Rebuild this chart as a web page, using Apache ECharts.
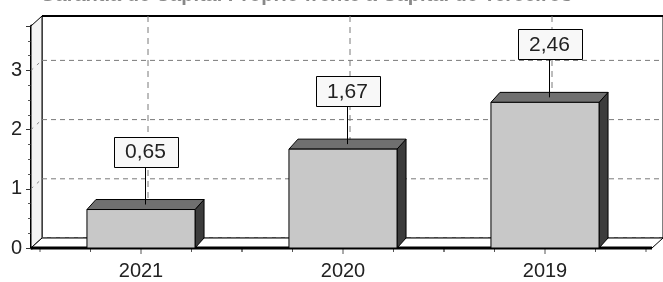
<!DOCTYPE html>
<html>
<head>
<meta charset="utf-8">
<script src="https://cdn.jsdelivr.net/npm/echarts@6/dist/echarts.min.js"></script>
<style>
  html, body { margin: 0; padding: 0; background: #fff; }
  #chart { width: 663px; height: 282px; }
</style>
</head>
<body>
<div id="chart"></div>
<script>
  const categories = ['2021', '2020', '2019'];
  const values = [0.65, 1.67, 2.46];
  const yTicks = [0, 1, 2, 3];
  const titleText = 'Garantia de Capital Próprio frente a Capital de Terceiros';

  const FONT = 'Arial, "Liberation Sans", sans-serif';
  const WALL = [11, -10]; // back wall offset
  const DEPTH = [9, -10]; // bar depth
  const GRID_DASH = { stroke: '#7a7a7a', lineWidth: 1, lineDash: [5, 4] };

  const fmt = (v) => v.toFixed(2).replace('.', ',');

  const chart = echarts.init(document.getElementById('chart'));

  // walls, floor, grid lines
  function renderFrame(params, api) {
    const r = params.coordSys;
    const x0 = r.x - 9;
    const x1 = r.x + r.width + 6;
    const yTop = r.y;
    const yBase = r.y + r.height;
    const bx0 = x0 + WALL[0];
    const bx1 = x1 + WALL[0];
    const by0 = yTop + WALL[1];
    const byBase = yBase + WALL[1];
    const children = [];

    children.push({
      type: 'rect',
      shape: { x: bx0, y: by0, width: bx1 - bx0, height: byBase - by0 },
      style: { fill: '#fff', stroke: '#000', lineWidth: 1 },
    });
    children.push({
      type: 'line',
      shape: { x1: bx0, y1: by0, x2: bx1, y2: by0 },
      style: { stroke: '#000', lineWidth: 2 },
    });
    children.push({
      type: 'polygon',
      shape: { points: [[x0, yBase], [x0, yTop], [bx0, by0], [bx0, byBase]] },
      style: { fill: '#f4f4f4', stroke: '#000', lineWidth: 1 },
    });
    children.push({
      type: 'polygon',
      shape: { points: [[x0, yBase], [bx0, byBase], [bx1, byBase], [x1, yBase]] },
      style: { fill: '#fff', stroke: '#000', lineWidth: 1 },
    });

    yTicks.forEach((t) => {
      const y = api.coord([0, t])[1];
      children.push({
        type: 'line',
        shape: { x1: bx0, y1: y + WALL[1], x2: bx1, y2: y + WALL[1] },
        style: GRID_DASH,
      });
      if (t > 0) {
        children.push({
          type: 'line',
          shape: { x1: x0, y1: y, x2: bx0, y2: y + WALL[1] },
          style: { stroke: '#888', lineWidth: 1, lineDash: [3, 5] },
        });
      }
    });

    const band = api.size([1, 0])[0];
    categories.forEach((c, i) => {
      const cx = api.coord([i, 0])[0];
      children.push({
        type: 'line',
        shape: { x1: cx + 7, y1: by0, x2: cx + 7, y2: byBase },
        style: { stroke: '#7a7a7a', lineWidth: 1, lineDash: [6, 5] },
      });
      for (let k = -2; k <= 2; k++) {
        const tx = cx + (k * band) / 4;
        children.push({
          type: 'line',
          shape: { x1: tx, y1: yBase, x2: tx, y2: yBase + (k === 0 ? 6 : 4) },
          style: { stroke: '#555', lineWidth: 1 },
        });
      }
    });

    children.push({
      type: 'line',
      shape: { x1: x0, y1: yBase, x2: x1, y2: yBase },
      style: { stroke: '#000', lineWidth: 3 },
    });

    return { type: 'group', children };
  }

  function renderBar(params, api) {
    const i = api.value(0);
    const v = api.value(1);
    const base = api.coord([i, 0]);
    const top = api.coord([i, v]);
    const w = api.size([1, 0])[0] * 0.535;
    const l = base[0] - w / 2;
    const r = base[0] + w / 2;
    const dx = DEPTH[0];
    const dy = DEPTH[1];
    const mid = base[0] + dx / 2;
    const boxBottom = top[1] + dy / 2 - 38;

    return {
      type: 'group',
      children: [
        {
          type: 'polygon',
          shape: { points: [[r, base[1]], [r, top[1]], [r + dx, top[1] + dy], [r + dx, base[1] + dy]] },
          style: { fill: '#3c3c3c', stroke: '#000', lineWidth: 1 },
        },
        {
          type: 'polygon',
          shape: { points: [[l, top[1]], [l + dx, top[1] + dy], [r + dx, top[1] + dy], [r, top[1]]] },
          style: { fill: '#707070', stroke: '#000', lineWidth: 1 },
        },
        {
          type: 'rect',
          shape: { x: l, y: top[1], width: w, height: base[1] - top[1] },
          style: { fill: '#c8c8c8', stroke: '#000', lineWidth: 1 },
        },
        {
          type: 'line',
          shape: { x1: mid, y1: boxBottom, x2: mid, y2: top[1] + dy / 2 },
          style: { stroke: '#000', lineWidth: 1 },
        },
        {
          type: 'rect',
          shape: { x: Math.round(mid - 32) + 0.5, y: Math.round(boxBottom - 30) + 0.5, width: 64, height: 30 },
          style: { fill: '#f8f8f8', stroke: '#000', lineWidth: 1 },
        },
        {
          type: 'text',
          x: mid,
          y: boxBottom - 14,
          style: {
            text: fmt(v),
            font: '21px ' + FONT,
            fill: '#222',
            align: 'center',
            verticalAlign: 'middle',
          },
        },
      ],
    };
  }

  const option = {
    animation: false,
    backgroundColor: '#fff',
    graphic: [
      {
        type: 'text',
        left: 40,
        top: -15,
        style: { text: titleText, font: 'bold 20px ' + FONT, fill: '#888' },
        z: 10,
      },
    ],
    grid: { left: 40, right: 17, top: 26, bottom: 34, containLabel: false, outerBoundsMode: 'none' },
    xAxis: {
      type: 'category',
      data: categories,
      axisLine: { show: false },
      axisTick: { show: false },
      splitLine: { show: false },
      axisLabel: { fontSize: 20, fontFamily: FONT, color: '#222', margin: 13 },
    },
    yAxis: {
      type: 'value',
      min: 0,
      max: 3.75,
      interval: 1,
      offset: 9,
      axisLine: { show: true, lineStyle: { color: '#000', width: 3 } },
      axisTick: { show: true, length: 5, lineStyle: { color: '#333' } },
      minorTick: { show: true, splitNumber: 4, length: 3, lineStyle: { color: '#555' } },
      splitLine: { show: false },
      axisLabel: {
        fontSize: 20,
        fontFamily: FONT,
        color: '#222',
        margin: 9,
        formatter: (v) => (yTicks.indexOf(v) >= 0 ? String(v) : ''),
      },
    },
    series: [
      {
        type: 'custom',
        z: 1,
        silent: true,
        renderItem: renderFrame,
        data: [[0, 0]],
      },
      {
        type: 'custom',
        z: 3,
        renderItem: renderBar,
        data: values.map((v, i) => [i, v]),
      },
    ],
  };

  chart.setOption(option);
</script>
</body>
</html>
